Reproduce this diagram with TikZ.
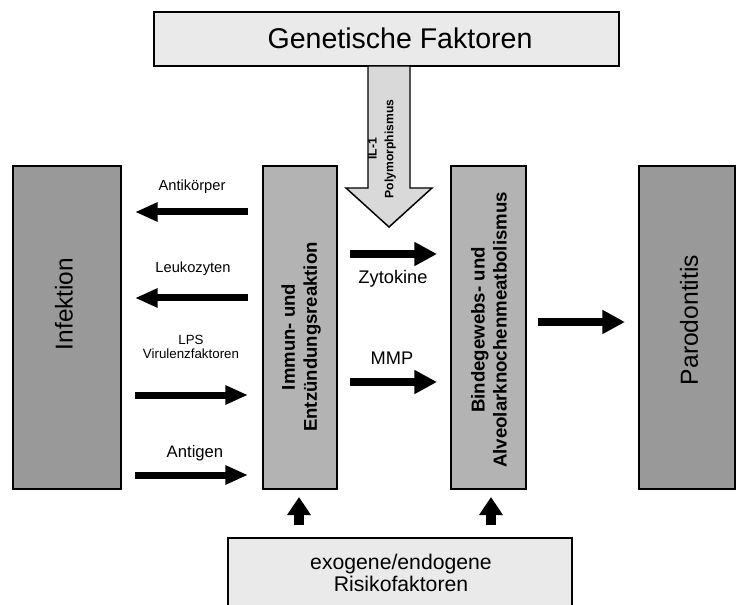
\documentclass[tikz,border=0pt]{standalone}
\usepackage{fontspec}
\setmainfont{Liberation Sans}
\usetikzlibrary{arrows.meta}
\definecolor{sidegray}{RGB}{153,153,153}
\definecolor{midgray}{RGB}{179,179,179}
\definecolor{lightbox}{RGB}{234,234,234}
\definecolor{arrowfill}{RGB}{217,217,217}
\tikzset{
  box/.style={draw=black, line width=1.1pt, inner sep=0pt, outer sep=0pt},
  sidebox/.style={box, fill=sidegray},
  midbox/.style={box, fill=midgray},
  lightbx/.style={box, fill=lightbox},
  lbl/.style={inner sep=0pt, align=center},
  smallarr/.style={line width=5.25pt, -{Triangle[length=17pt,width=13.5pt]}},
  midarr/.style={line width=6pt, -{Triangle[length=17pt,width=17pt]}},
  uparr/.style={line width=7.5pt, -{Triangle[length=13.5pt,width=17pt]}},
}
\begin{document}
\begin{tikzpicture}[x=0.75pt,y=-0.75pt]
\useasboundingbox (0,0) rectangle (737,605);
% boxes
\node[lightbx, minimum width=348.75pt, minimum height=40.5pt] (gen) at (386.5,39) {};
\node[lbl, font=\fontsize{21.4pt}{24pt}\selectfont] (gentext) at (400,38) {Genetische Faktoren};
\node[sidebox, minimum width=81pt, minimum height=242.25pt] (inf) at (67,327.5) {};
\node[lbl, rotate=90, font=\fontsize{18.3pt}{21pt}\selectfont] (inftext) at (64,304) {Infektion};
\node[midbox, minimum width=55.5pt, minimum height=242.25pt] (imm) at (300,327.5) {};
\node[lbl, rotate=90, font=\bfseries\fontsize{13.9pt}{16.5pt}\selectfont] (immtext) at (301,337) {Immun- und\\Entzündungsreaktion};
\node[midbox, minimum width=56.25pt, minimum height=242.25pt] (bind) at (488.5,327.5) {};
\node[lbl, rotate=90, font=\bfseries\fontsize{14pt}{16.5pt}\selectfont] (bindtext) at (489,330) {Bindegewebs- und\\Alveolarknochenmeatbolismus};
\node[sidebox, minimum width=72pt, minimum height=242.25pt] (par) at (687,327.5) {};
\node[lbl, rotate=90, font=\fontsize{18.5pt}{21pt}\selectfont] (partext) at (689,320) {Parodontitis};
\node[lightbx, minimum width=258pt, minimum height=54pt] (risk) at (400,574) {};
\node[lbl, font=\fontsize{15.9pt}{16.5pt}\selectfont] (risktext) at (401,573) {exogene/endogene\\Risikofaktoren};
% big arrow
\draw[line width=1.1pt, fill=arrowfill, line join=miter]
  (368,66) -- (410,66) -- (410,188) -- (432,188) -- (389,227) -- (346,188) -- (368,188) -- cycle;
\node[lbl, rotate=90, font=\bfseries\fontsize{9.1pt}{12.5pt}\selectfont] (iltext) at (382,149) {IL-1\\Polymorphismus};
% left arrows
\coordinate (a1s) at (248,212); \coordinate (a1e) at (135,212);
\coordinate (a2s) at (248,298); \coordinate (a2e) at (135,298);
\coordinate (a3s) at (135,395); \coordinate (a3e) at (248,395);
\coordinate (a4s) at (135,475); \coordinate (a4e) at (248,475);
\draw[smallarr] (a1s) -- (a1e);
\draw[smallarr] (a2s) -- (a2e);
\draw[smallarr] (a3s) -- (a3e);
\draw[smallarr] (a4s) -- (a4e);
\node[lbl, font=\fontsize{11pt}{13pt}\selectfont] (antik) at (192,187) {Antikörper};
\node[lbl, font=\fontsize{11pt}{13pt}\selectfont] (leuk) at (193,269) {Leukozyten};
\node[lbl, font=\fontsize{10pt}{11pt}\selectfont] (lps) at (191,347) {LPS\\Virulenzfaktoren};
\node[lbl, font=\fontsize{12.5pt}{14pt}\selectfont] (antig) at (195,453) {Antigen};
% middle arrows
\coordinate (m1s) at (350,254); \coordinate (m1e) at (437,254);
\coordinate (m2s) at (350,382); \coordinate (m2e) at (437,382);
\draw[midarr] (m1s) -- (m1e);
\draw[midarr] (m2s) -- (m2e);
\node[lbl, font=\fontsize{13.7pt}{16pt}\selectfont] (zyt) at (393,279) {Zytokine};
\node[lbl, font=\fontsize{13.7pt}{16pt}\selectfont] (mmp) at (392,358) {MMP};
% right arrow
\coordinate (r1s) at (538,322); \coordinate (r1e) at (625,322);
\draw[midarr] (r1s) -- (r1e);
% up arrows
\coordinate (u1s) at (299,525); \coordinate (u1e) at (299,497);
\coordinate (u2s) at (491,525); \coordinate (u2e) at (491,497);
\draw[uparr] (u1s) -- (u1e);
\draw[uparr] (u2s) -- (u2e);
\end{tikzpicture}
\end{document}
